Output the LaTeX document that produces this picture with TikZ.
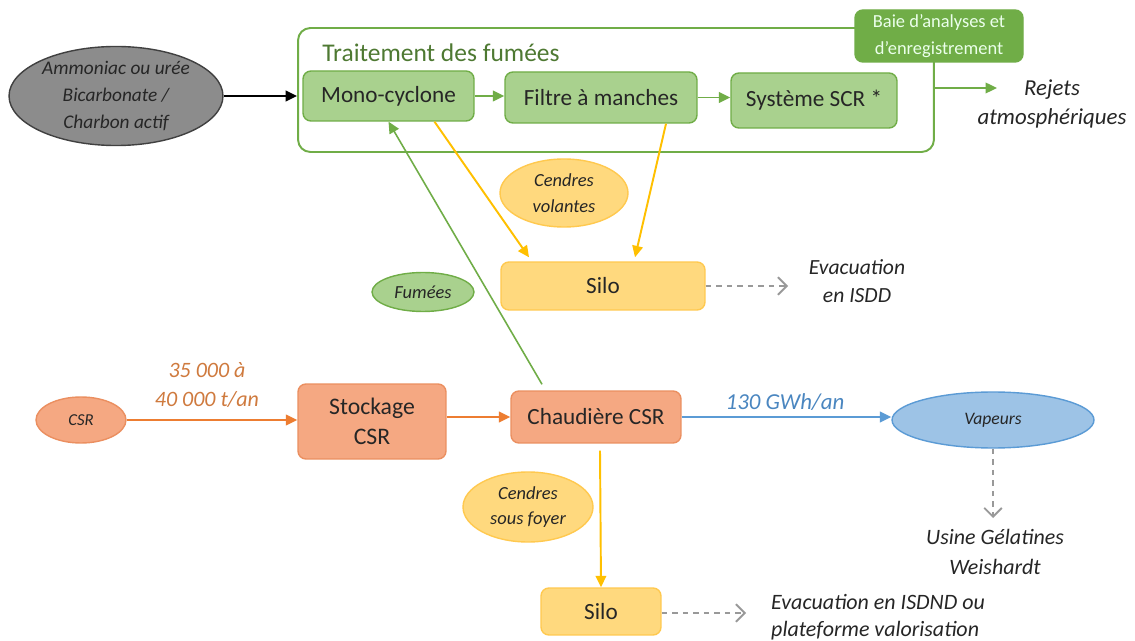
\documentclass[tikz,border=0pt]{standalone}
\usepackage{fontspec}
\setmainfont{Carlito}
\usetikzlibrary{shapes.geometric,arrows.meta,calc}
\definecolor{gfill}{HTML}{A9D18E}
\definecolor{gdraw}{HTML}{70AD47}
\definecolor{gdark}{HTML}{70AD47}
\definecolor{ofill}{HTML}{F5A882}
\definecolor{odraw}{HTML}{EB8F60}
\definecolor{oarrow}{HTML}{ED7D31}
\definecolor{olabel}{HTML}{CF7A3E}
\definecolor{yfill}{HTML}{FFD97E}
\definecolor{ydraw}{HTML}{FFC94F}
\definecolor{yarrow}{HTML}{FFC000}
\definecolor{bfill}{HTML}{9DC3E6}
\definecolor{bdraw}{HTML}{5B9BD5}
\definecolor{blabel}{HTML}{4A86C0}
\definecolor{txt}{HTML}{262626}
\definecolor{dgray}{HTML}{8C8C8C}
\begin{document}
\begin{tikzpicture}[x=0.02cm,y=-0.02cm,
  box/.style={draw, rounded corners=4.5pt, line width=0.8pt, align=center, text=txt, inner sep=0pt, font=\fontsize{13.2}{16}\selectfont},
  gbox/.style={box, fill=gfill, draw=gdraw},
  obox/.style={box, fill=ofill, draw=odraw},
  ybox/.style={box, fill=yfill, draw=ydraw},
  ell/.style={ellipse, draw, line width=0.8pt, align=center, inner sep=0pt, text=txt},
  lab/.style={align=center, text=txt, font=\itshape},
  tip/.style={-{Triangle[length=6.5pt,width=6pt]}},
  gar/.style={tip, draw=gdraw, line width=1.1pt},
  yar/.style={tip, draw=yarrow, line width=1.1pt},
  oar/.style={tip, draw=oarrow, line width=1.1pt},
  dar/.style={-{Straight Barb[length=5pt,width=10pt]}, draw=gray!80, dashed, line width=1.1pt}
]
\useasboundingbox (0,0) rectangle (1135,641);
\fill[white] (0,0) rectangle (1135,641);

% frame
\node[draw=gdraw, line width=1.1pt, rounded corners=7pt, minimum width=12.72cm, minimum height=2.48cm, inner sep=0pt] (frame) at (616,90) {};
\node[anchor=west, text=gdark!70!black, font=\fontsize{14.5}{17}\selectfont, inner sep=0pt] (title) at (322,53) {Traitement des fumées};
\node[gbox, minimum width=3.42cm, minimum height=1.0cm] (mono) at (388.5,96) {Mono-cyclone};
\node[gbox, minimum width=3.84cm, minimum height=1.02cm] (filtre) at (601,97.5) {Filtre à manches};
\node[gbox, minimum width=3.32cm, minimum height=1.1cm] (scr) at (814,100.5) {Système SCR *};
\node[box, fill=gdark, draw=gdark, text=green!8!white, minimum width=3.36cm, minimum height=1.04cm, font=\fontsize{10.5}{15}\selectfont] (baie) at (939,36) {Baie d’analyses et\\d’enregistrement};

\node[ell, fill=dgray, draw=black!75, minimum width=4.28cm, minimum height=1.88cm, font=\itshape\fontsize{11}{15.5}\selectfont] (amm) at (116,96) {Ammoniac ou urée\\Bicarbonate /\\Charbon actif};

\draw[tip, draw=black, line width=1.1pt] (amm.east) -- (amm.east -| frame.west);
\draw[gar] (mono.east) -- (mono.east -| filtre.west);
\draw[gar] (filtre.east) -- (filtre.east -| scr.west);

\coordinate (rj) at (997,88);
\node[lab, font=\itshape\fontsize{13}{16}\selectfont] (rejets) at (1052,104) {Rejets\\atmosphériques};
\draw[gar] (frame.east |- rj) -- (rj);

% cendres volantes
\node[ell, fill=yfill, draw=ydraw, minimum width=2.56cm, minimum height=1.36cm, font=\itshape\fontsize{10.5}{14.5}\selectfont] (cv) at (564,193) {Cendres\\volantes};
\node[ybox, minimum width=4.08cm, minimum height=0.96cm] (silo1) at (603,286) {Silo};
\draw[yar] ($(mono.south)+(46,0)$) -- ($(silo1.north)+(-74,-4)$);
\draw[yar] ($(filtre.south)+(65,0)$) -- ($(silo1.north)+(32,-4)$);

\coordinate (ev1) at (788,286);
\draw[dar] (silo1.east) -- (ev1);
\node[lab, font=\itshape\fontsize{12.3}{16}\selectfont] (evac1) at (857,281) {Evacuation\\en ISDD};

% fumees
\node[ell, fill=gfill, draw=gdraw, minimum width=2.04cm, minimum height=0.78cm, font=\itshape\fontsize{10.5}{12}\selectfont] (fum) at (423,292) {Fumées};

% bottom row
\node[ell, fill=ofill, draw=odraw, minimum width=1.8cm, minimum height=0.92cm, font=\itshape\fontsize{9.5}{11}\selectfont] (csr) at (81,420) {CSR};
\node[obox, minimum width=2.96cm, minimum height=1.5cm, font=\fontsize{13.5}{17}\selectfont] (stock) at (372,421.5) {Stockage\\CSR};
\node[obox, minimum width=3.4cm, minimum height=1.04cm] (chaud) at (596,417) {Chaudière CSR};
\node[lab, text=olabel, font=\itshape\fontsize{12.5}{17}\selectfont] (qty) at (207,385) {35 000 à\\40 000 t/an};
\draw[oar] (csr.east) -- (csr.east -| stock.west);
\draw[oar] (stock.east |- chaud.west) -- (chaud.west);

\draw[tip, draw=gdraw, line width=0.9pt] ($(chaud.north)+(-54,-6)$) -- (mono.south);

\node[ell, fill=bfill, draw=bdraw, minimum width=4.04cm, minimum height=1.12cm, font=\itshape\fontsize{10}{12}\selectfont] (vap) at (993,420) {Vapeurs};
\draw[tip, draw=bdraw, line width=1.1pt] (chaud.east) -- (chaud.east -| vap.west);
\node[lab, text=blabel, font=\itshape\fontsize{13}{16}\selectfont] (gwh) at (785,402) {130 GWh/an};

\coordinate (us) at (993,518);
\draw[dar] (vap.south) -- (us);
\node[lab, font=\itshape\fontsize{12.5}{17}\selectfont] (usine) at (995,552) {Usine Gélatines\\Weishardt};

\node[ell, fill=yfill, draw=ydraw, minimum width=2.6cm, minimum height=1.4cm, font=\itshape\fontsize{10.5}{14.5}\selectfont] (csf) at (528,507) {Cendres\\sous foyer};
\node[ybox, minimum width=2.4cm, minimum height=0.94cm] (silo2) at (601,611.5) {Silo};
\draw[yar] ($(chaud.south)+(4,7)$) -- (silo2.north);

\coordinate (ev2) at (746,613);
\draw[dar] (silo2.east |- ev2) -- (ev2);
\node[lab, align=left, anchor=west, font=\itshape\fontsize{12.5}{15.5}\selectfont] (evac2) at (765,617) {Evacuation en ISDND ou\\plateforme valorisation};
\end{tikzpicture}
\end{document}
